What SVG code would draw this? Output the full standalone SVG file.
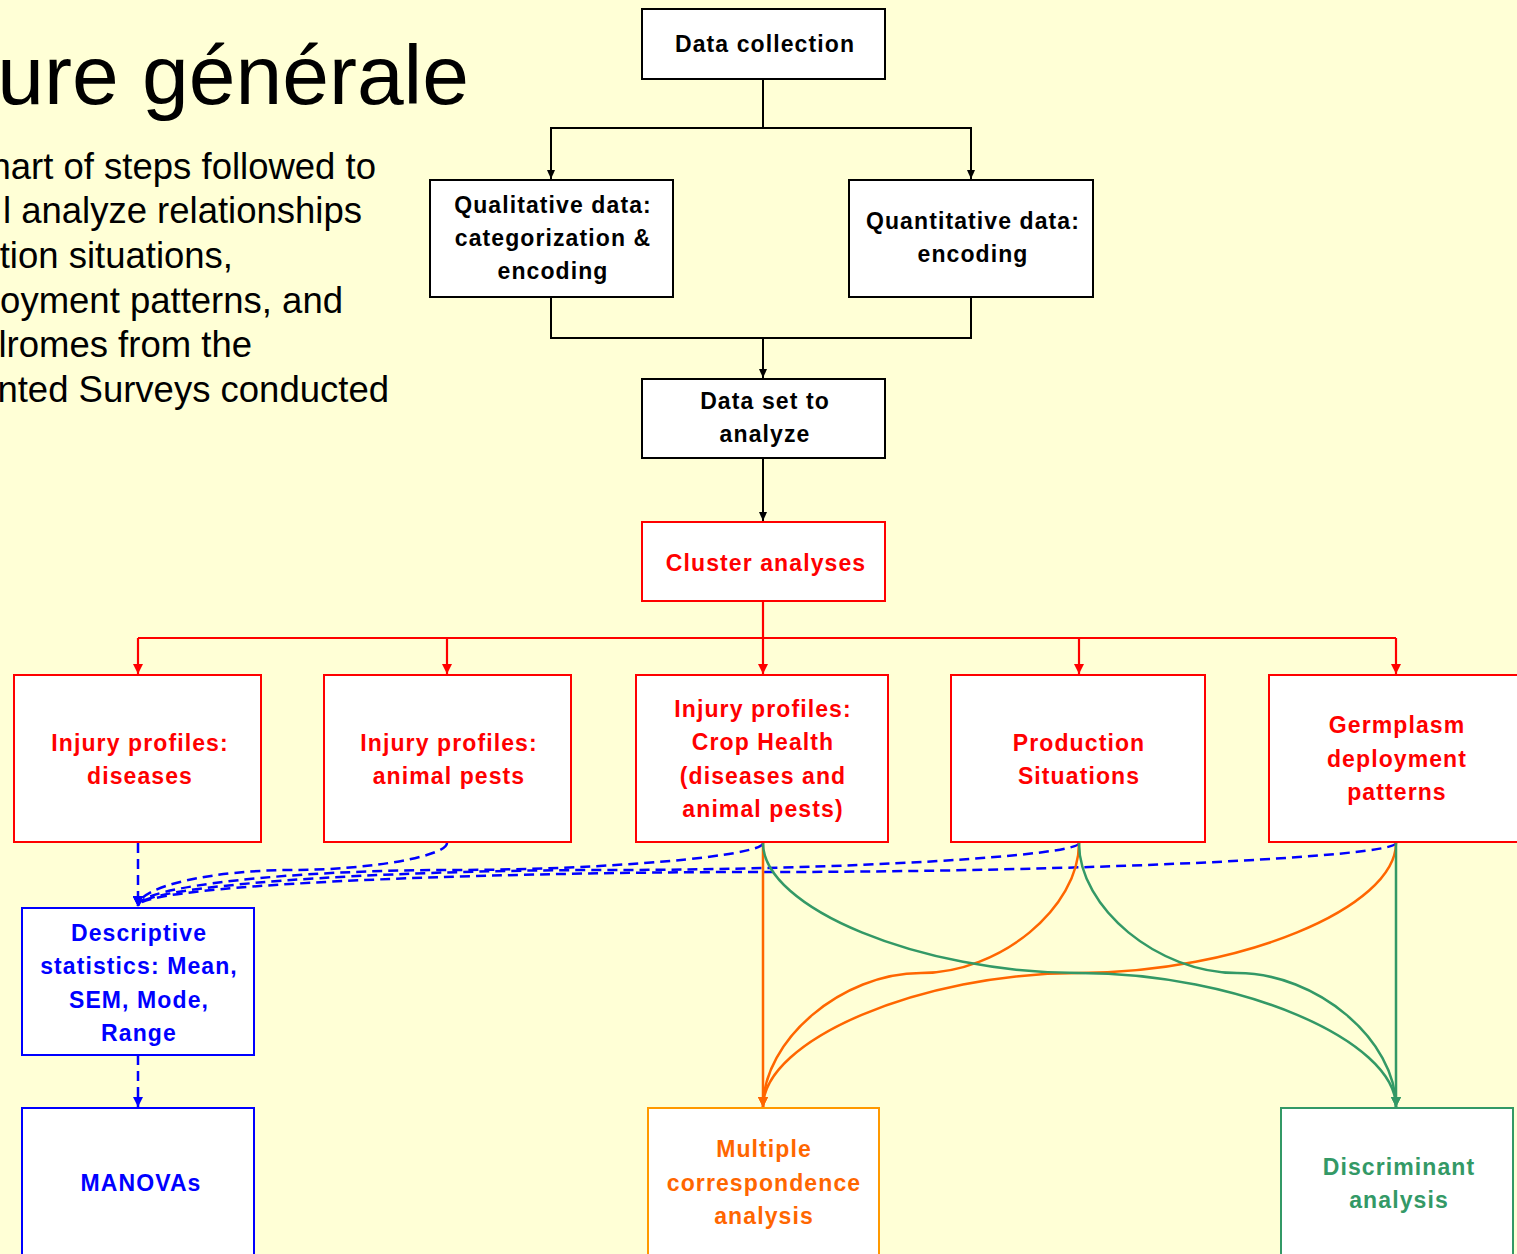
<svg xmlns="http://www.w3.org/2000/svg" width="1517" height="1254" viewBox="0 0 1517 1254">
<defs>
<style>
.bg{fill:#FFFFD6}
.box{fill:#FFFFFF;stroke-width:2}
.k{stroke:#000000}
.r{stroke:#FF0000}
.b{stroke:#0000FF}
.o{stroke:#FF9900}
.g{stroke:#339966}
.t{font-family:"Liberation Sans",Arial,sans-serif;font-weight:bold;font-size:23px;letter-spacing:1.1px;text-anchor:middle}
.tk{fill:#000000}
.tr{fill:#FF0000}
.tb{fill:#0000FF}
.to{fill:#FF6600}
.tg{fill:#339966}
.body{font-family:"Liberation Sans",Arial,sans-serif;font-size:36.5px;fill:#000000;text-anchor:end}
.title{font-family:"Liberation Sans",Arial,sans-serif;font-size:84px;fill:#000000;text-anchor:end}
.ck{fill:none;stroke:#000000;stroke-width:2}
.cr{fill:none;stroke:#FF0000;stroke-width:2.2}
.cb{fill:none;stroke:#0000FF;stroke-width:2.5;stroke-dasharray:10 6}
.co{fill:none;stroke:#FF6600;stroke-width:2.5}
.cg{fill:none;stroke:#339966;stroke-width:2.5}
</style>
<marker id="ak" markerUnits="userSpaceOnUse" markerWidth="10" markerHeight="10" refX="9" refY="5" orient="auto"><path d="M0,1 L9,5 L0,9 Z" fill="#000000"/></marker>
<marker id="ar" markerUnits="userSpaceOnUse" markerWidth="12" markerHeight="12" refX="10" refY="6" orient="auto"><path d="M0,1 L10,6 L0,11 Z" fill="#FF0000"/></marker>
<marker id="ab" markerUnits="userSpaceOnUse" markerWidth="12" markerHeight="12" refX="10" refY="6" orient="auto"><path d="M0,1 L10,6 L0,11 Z" fill="#0000FF"/></marker>
<marker id="ao" markerUnits="userSpaceOnUse" markerWidth="12" markerHeight="12" refX="10" refY="6" orient="auto"><path d="M0,1 L10,6 L0,11 Z" fill="#FF6600"/></marker>
<marker id="ag" markerUnits="userSpaceOnUse" markerWidth="12" markerHeight="12" refX="10" refY="6" orient="auto"><path d="M0,1 L10,6 L0,11 Z" fill="#339966"/></marker>
</defs>
<rect class="bg" x="0" y="0" width="1517" height="1254"/>

<g id="title">
<text class="title" x="469" y="104">ure générale</text>
</g>
<g id="bodytext">
<text class="body" x="376" y="179">hart of steps followed to</text>
<text class="body" x="362" y="223">l analyze relationships</text>
<text class="body" x="233" y="268">tion situations,</text>
<text class="body" x="343" y="313">oyment patterns, and</text>
<text class="body" x="252" y="357">lromes from the</text>
<text class="body" x="389" y="402">nted Surveys conducted</text>
</g>

<g id="connectors">
<path class="ck" d="M763,79 V128 H551 V179" marker-end="url(#ak)"/>
<path class="ck" d="M763,128 H971 V179" marker-end="url(#ak)"/>
<path class="ck" d="M551,297 V338 H971 V297"/>
<path class="ck" d="M763,338 V378" marker-end="url(#ak)"/>
<path class="ck" d="M763,458 V521" marker-end="url(#ak)"/>
<path class="cr" d="M763,601 V674" marker-end="url(#ar)"/>
<path class="cr" d="M138,638 H1396"/>
<path class="cr" d="M138,638 V674" marker-end="url(#ar)"/>
<path class="cr" d="M447,638 V674" marker-end="url(#ar)"/>
<path class="cr" d="M1079,638 V674" marker-end="url(#ar)"/>
<path class="cr" d="M1396,638 V674" marker-end="url(#ar)"/>

<path class="cb" d="M138,843 V907" marker-end="url(#ab)"/>
<path class="cb" d="M447,843 C447,856 370,870 292,870 C215,870 138,886 138,906" marker-end="url(#ab)"/>
<path class="cb" d="M763,843 C763,856 607,870 450,870 C294,870 138,886 138,906" marker-end="url(#ab)"/>
<path class="cb" d="M1079,843 C1079,856 844,870 608,870 C373,870 138,886 138,906" marker-end="url(#ab)"/>
<path class="cb" d="M1396,843 C1396,857 1081,872 767,872 C452,872 138,886 138,906" marker-end="url(#ab)"/>
<path class="cb" d="M138,1055 V1107" marker-end="url(#ab)"/>

<path class="co" d="M763,843 V1107" marker-end="url(#ao)"/>
<path class="co" d="M1079,843 C1079,908 1000,973 921,973 C842,973 763,1040 763,1107" marker-end="url(#ao)"/>
<path class="co" d="M1396,843 C1396,908 1238,973 1079,973 C921,973 763,1040 763,1107" marker-end="url(#ao)"/>
<path class="cg" d="M763,843 C763,908 921,973 1079,973 C1238,973 1396,1040 1396,1107" marker-end="url(#ag)"/>
<path class="cg" d="M1079,843 C1079,908 1158,973 1237,973 C1317,973 1396,1040 1396,1107" marker-end="url(#ag)"/>
<path class="cg" d="M1396,843 V1107" marker-end="url(#ag)"/>
</g>

<g id="n-datacollection">
<rect class="box k" x="642" y="9" width="243" height="70"/>
<text class="t tk" x="765" y="52">Data collection</text>
</g>
<g id="n-qualitative">
<rect class="box k" x="430" y="180" width="243" height="117"/>
<text class="t tk" x="553" y="213">Qualitative data:</text>
<text class="t tk" x="553" y="246">categorization &amp;</text>
<text class="t tk" x="553" y="279">encoding</text>
</g>
<g id="n-quantitative">
<rect class="box k" x="849" y="180" width="244" height="117"/>
<text class="t tk" x="973" y="229">Quantitative data:</text>
<text class="t tk" x="973" y="262">encoding</text>
</g>
<g id="n-dataset">
<rect class="box k" x="642" y="379" width="243" height="79"/>
<text class="t tk" x="765" y="409">Data set to</text>
<text class="t tk" x="765" y="442">analyze</text>
</g>
<g id="n-cluster">
<rect class="box r" x="642" y="522" width="243" height="79"/>
<text class="t tr" x="766" y="571">Cluster analyses</text>
</g>
<g id="n-diseases">
<rect class="box r" x="14" y="675" width="247" height="167"/>
<text class="t tr" x="140" y="751">Injury profiles:</text>
<text class="t tr" x="140" y="784">diseases</text>
</g>
<g id="n-animalpests">
<rect class="box r" x="324" y="675" width="247" height="167"/>
<text class="t tr" x="449" y="751">Injury profiles:</text>
<text class="t tr" x="449" y="784">animal pests</text>
</g>
<g id="n-crophealth">
<rect class="box r" x="636" y="675" width="252" height="167"/>
<text class="t tr" x="763" y="717">Injury profiles:</text>
<text class="t tr" x="763" y="750">Crop Health</text>
<text class="t tr" x="763" y="784">(diseases and</text>
<text class="t tr" x="763" y="817">animal pests)</text>
</g>
<g id="n-production">
<rect class="box r" x="951" y="675" width="254" height="167"/>
<text class="t tr" x="1079" y="751">Production</text>
<text class="t tr" x="1079" y="784">Situations</text>
</g>
<g id="n-germplasm">
<rect class="box r" x="1269" y="675" width="256" height="167"/>
<text class="t tr" x="1397" y="733">Germplasm</text>
<text class="t tr" x="1397" y="767">deployment</text>
<text class="t tr" x="1397" y="800">patterns</text>
</g>
<g id="n-descriptive">
<rect class="box b" x="22" y="908" width="232" height="147"/>
<text class="t tb" x="139" y="941">Descriptive</text>
<text class="t tb" x="139" y="974">statistics: Mean,</text>
<text class="t tb" x="139" y="1008">SEM, Mode,</text>
<text class="t tb" x="139" y="1041">Range</text>
</g>
<g id="n-manovas">
<rect class="box b" x="22" y="1108" width="232" height="160"/>
<text class="t tb" x="141" y="1191">MANOVAs</text>
</g>
<g id="n-mca">
<rect class="box o" x="648" y="1108" width="231" height="160"/>
<text class="t to" x="764" y="1157">Multiple</text>
<text class="t to" x="764" y="1191">correspondence</text>
<text class="t to" x="764" y="1224">analysis</text>
</g>
<g id="n-discriminant">
<rect class="box g" x="1281" y="1108" width="232" height="160"/>
<text class="t tg" x="1399" y="1175">Discriminant</text>
<text class="t tg" x="1399" y="1208">analysis</text>
</g>
</svg>
